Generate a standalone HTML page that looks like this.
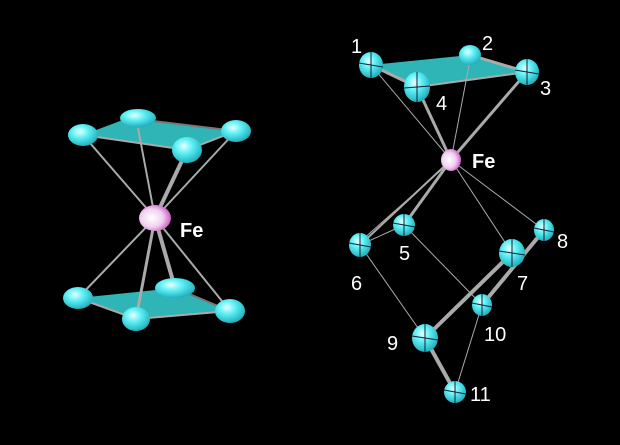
<!DOCTYPE html>
<html><head><style>
html,body{margin:0;padding:0;background:#000;width:620px;height:445px;overflow:hidden}
svg{display:block}
text{font-family:"Liberation Sans",sans-serif;fill:#fff}
</style></head><body>
<svg width="620" height="445" viewBox="0 0 620 445">
<defs>
<radialGradient id="c" cx="0.4" cy="0.35" r="0.7">
<stop offset="0" stop-color="#e8ffff"/><stop offset="0.4" stop-color="#5ef0f5"/><stop offset="1" stop-color="#1aa8b8"/>
</radialGradient>
<radialGradient id="f" cx="0.4" cy="0.5" r="0.7">
<stop offset="0" stop-color="#ffffff"/><stop offset="0.5" stop-color="#f0d0f0"/><stop offset="1" stop-color="#c02ab0"/>
</radialGradient>
</defs>
<rect width="620" height="445" fill="#000"/>
<!-- LEFT -->
<polygon points="83,135 128,118 236,131 187,150" fill="#2fb5b5"/>
<polygon points="78,298 175,288 230,311 136,319" fill="#2fb5b5"/>
<g stroke="#aaa" stroke-width="2" fill="none">
<polyline points="83,135 187,150 236,131"/>
<line x1="128" y1="118" x2="236" y2="131" stroke="#777"/>
<polyline points="78,298 136,319 230,311"/>
<line x1="175" y1="288" x2="230" y2="311" stroke="#777"/>
<line x1="83" y1="135" x2="155" y2="218"/>
<line x1="138" y1="128" x2="155" y2="218"/>
<line x1="236" y1="131" x2="155" y2="218"/>
<line x1="187" y1="150" x2="155" y2="218" stroke-width="4"/>
<line x1="78" y1="298" x2="155" y2="218"/>
<line x1="136" y1="319" x2="155" y2="218" stroke-width="3"/>
<line x1="230" y1="311" x2="155" y2="218"/>
<line x1="175" y1="288" x2="155" y2="218" stroke-width="4"/>
</g>
<g fill="url(#c)">
<ellipse cx="83" cy="135" rx="15" ry="11"/>
<ellipse cx="138" cy="118" rx="18" ry="9"/>
<ellipse cx="236" cy="131" rx="15" ry="11"/>
<ellipse cx="187" cy="150" rx="15" ry="13"/>
<ellipse cx="78" cy="298" rx="15" ry="11"/>
<ellipse cx="175" cy="288" rx="20" ry="10"/>
<ellipse cx="230" cy="311" rx="15" ry="12"/>
<ellipse cx="136" cy="319" rx="14" ry="12"/>
</g>
<ellipse cx="155" cy="218" rx="16" ry="13" fill="url(#f)"/>
<text x="180" y="237" font-size="20" font-weight="bold">Fe</text>
<!-- RIGHT -->
<polygon points="371,65 470,55 527,72 417,87" fill="#2fb5b5"/>
<g stroke="#aaa" stroke-width="2" fill="none">
<line x1="371" y1="65" x2="417" y2="87" stroke-width="3"/>
<line x1="417" y1="87" x2="527" y2="72"/>
<line x1="470" y1="55" x2="527" y2="72" stroke-width="3"/>
<line x1="371" y1="65" x2="451" y2="160" stroke-width="1"/>
<line x1="417" y1="87" x2="451" y2="160" stroke-width="3"/>
<line x1="470" y1="60" x2="451" y2="160" stroke-width="1"/>
<line x1="527" y1="72" x2="451" y2="160" stroke-width="3"/>
<line x1="451" y1="160" x2="404" y2="225" stroke-width="3"/>
<line x1="451" y1="160" x2="360" y2="245" stroke-width="2"/>
<line x1="448" y1="164" x2="362" y2="240" stroke-width="1"/>
<line x1="451" y1="160" x2="512" y2="253" stroke-width="1"/>
<line x1="451" y1="160" x2="544" y2="230" stroke-width="1"/>
<line x1="360" y1="245" x2="404" y2="225" stroke-width="1"/>
<line x1="360" y1="245" x2="425" y2="338" stroke-width="1"/>
<line x1="404" y1="225" x2="482" y2="305" stroke-width="1"/>
<line x1="512" y1="253" x2="425" y2="338" stroke-width="4"/>
<line x1="544" y1="230" x2="482" y2="305" stroke-width="4"/>
<line x1="425" y1="338" x2="455" y2="392" stroke-width="4"/>
<line x1="482" y1="305" x2="455" y2="392" stroke-width="1"/>
</g>
<g fill="url(#c)">
<ellipse cx="371" cy="65" rx="12" ry="13"/>
<ellipse cx="470" cy="55" rx="11" ry="10"/>
<ellipse cx="527" cy="72" rx="12" ry="13"/>
<ellipse cx="417" cy="87" rx="13" ry="15"/>
<ellipse cx="404" cy="225" rx="11" ry="11"/>
<ellipse cx="360" cy="245" rx="11" ry="12"/>
<ellipse cx="512" cy="253" rx="13" ry="14"/>
<ellipse cx="544" cy="230" rx="10" ry="11"/>
<ellipse cx="425" cy="338" rx="13" ry="14"/>
<ellipse cx="482" cy="305" rx="10" ry="11"/>
<ellipse cx="455" cy="392" rx="11" ry="11"/>
</g>
<g stroke="#123" stroke-width="1" fill="none">
<path d="M359,63 L383,67 M371,52 L371,78"/>
<path d="M404,88 L430,86 M417,72 L417,102"/>
<path d="M515,70 L539,74 M527,59 L527,85"/>
<path d="M349,243 L371,247 M360,233 L360,257"/>
<path d="M499,251 L525,255 M512,239 L512,267"/>
<path d="M412,336 L438,340 M425,324 L425,352"/>
<path d="M444,390 L466,394 M455,381 L455,403"/>
<path d="M472,303 L492,307 M482,294 L482,316"/>
<path d="M534,228 L554,232 M544,219 L544,241"/>
<path d="M393,223 L415,227 M404,214 L404,236"/>
</g>
<ellipse cx="451" cy="160" rx="10" ry="11" fill="url(#f)"/>
<text x="472" y="168" font-size="20" font-weight="bold">Fe</text>
<g font-size="20">
<text x="351" y="53">1</text>
<text x="482" y="50">2</text>
<text x="540" y="95">3</text>
<text x="436" y="110">4</text>
<text x="399" y="260">5</text>
<text x="351" y="290">6</text>
<text x="517" y="290">7</text>
<text x="557" y="248">8</text>
<text x="387" y="350">9</text>
<text x="484" y="341">10</text>
<text x="470" y="401">11</text>
</g>
</svg>
</body></html>
